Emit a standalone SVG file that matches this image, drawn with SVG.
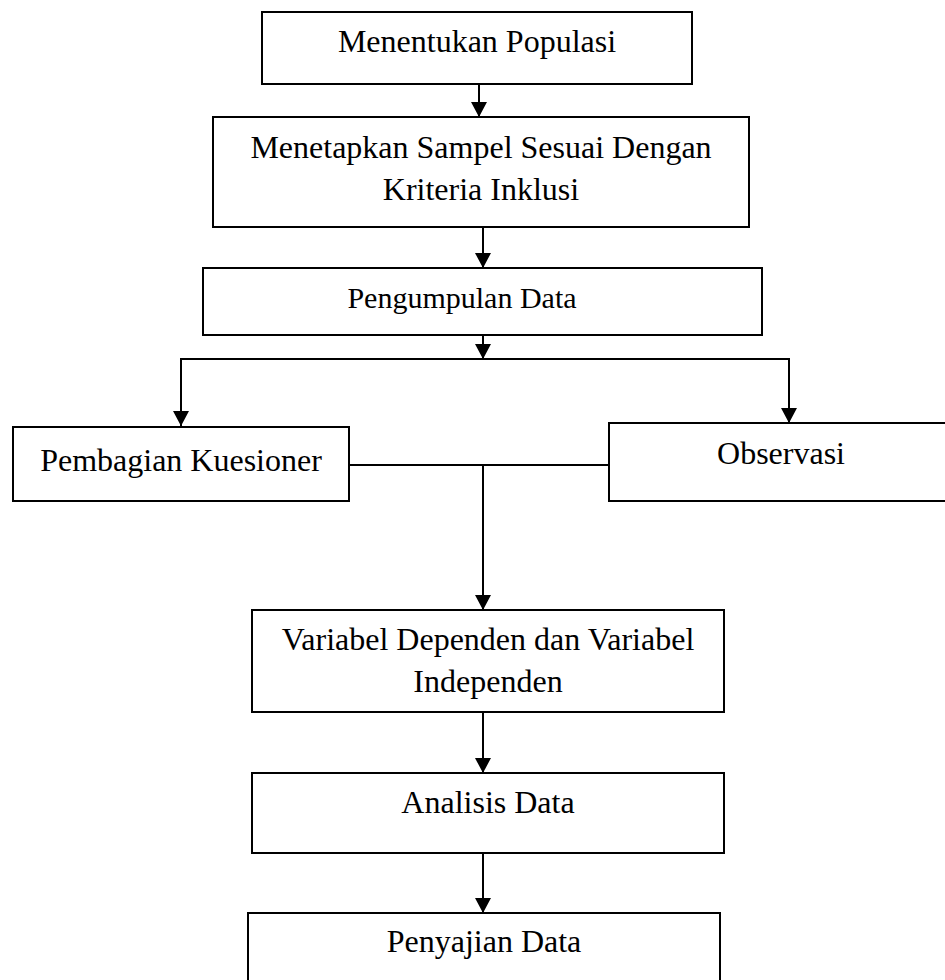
<svg xmlns="http://www.w3.org/2000/svg" width="945" height="980" viewBox="0 0 945 980">
<defs>
<style>
.box{fill:#fff;stroke:#000;stroke-width:2}
.t{font-family:"Liberation Serif","Times New Roman",serif;font-size:32px;fill:#000;text-anchor:middle}
.s{font-size:30px}
.c{fill:none;stroke:#000;stroke-width:2}
</style>
<marker id="ah" markerUnits="userSpaceOnUse" markerWidth="16" markerHeight="16" viewBox="0 0 16 16" refX="15" refY="8" orient="auto">
<path d="M0,0 L15,8 L0,16 Z" fill="#000"/>
</marker>
</defs>
<rect width="945" height="980" fill="#fff"/>
<g id="n1"><rect class="box" x="262" y="12" width="430" height="72"/><text class="t" x="477" y="52">Menentukan Populasi</text></g>
<g id="n2"><rect class="box" x="213" y="117" width="536" height="110"/><text class="t" x="481" y="158">Menetapkan Sampel Sesuai Dengan</text><text class="t" x="481" y="200">Kriteria Inklusi</text></g>
<g id="n3"><rect class="box" x="203" y="268" width="559" height="67"/><text class="t s" x="462" y="308">Pengumpulan Data</text></g>
<g id="n4"><rect class="box" x="13" y="427" width="336" height="74"/><text class="t" x="181" y="471">Pembagian Kuesioner</text></g>
<g id="n5"><rect class="box" x="609" y="423" width="345" height="78"/><text class="t" x="781" y="464">Observasi</text></g>
<g id="n6"><rect class="box" x="252" y="610" width="472" height="102"/><text class="t" x="488" y="650">Variabel Dependen dan Variabel</text><text class="t" x="488" y="692">Independen</text></g>
<g id="n7"><rect class="box" x="252" y="773" width="472" height="80"/><text class="t" x="488" y="813">Analisis Data</text></g>
<g id="n8"><rect class="box" x="248" y="913" width="472" height="80"/><text class="t" x="484" y="952">Penyajian Data</text></g>
<g id="connectors">
<path class="c" d="M479,84 V117" marker-end="url(#ah)"/>
<path class="c" d="M483,227 V268" marker-end="url(#ah)"/>
<path class="c" d="M483,335 V359" marker-end="url(#ah)"/>
<path class="c" d="M180,359 H790"/>
<path class="c" d="M181,359 V426" marker-end="url(#ah)"/>
<path class="c" d="M789,359 V423" marker-end="url(#ah)"/>
<path class="c" d="M349,465 H609"/>
<path class="c" d="M483,465 V610" marker-end="url(#ah)"/>
<path class="c" d="M483,712 V773" marker-end="url(#ah)"/>
<path class="c" d="M483,853 V913" marker-end="url(#ah)"/>
</g>
</svg>
